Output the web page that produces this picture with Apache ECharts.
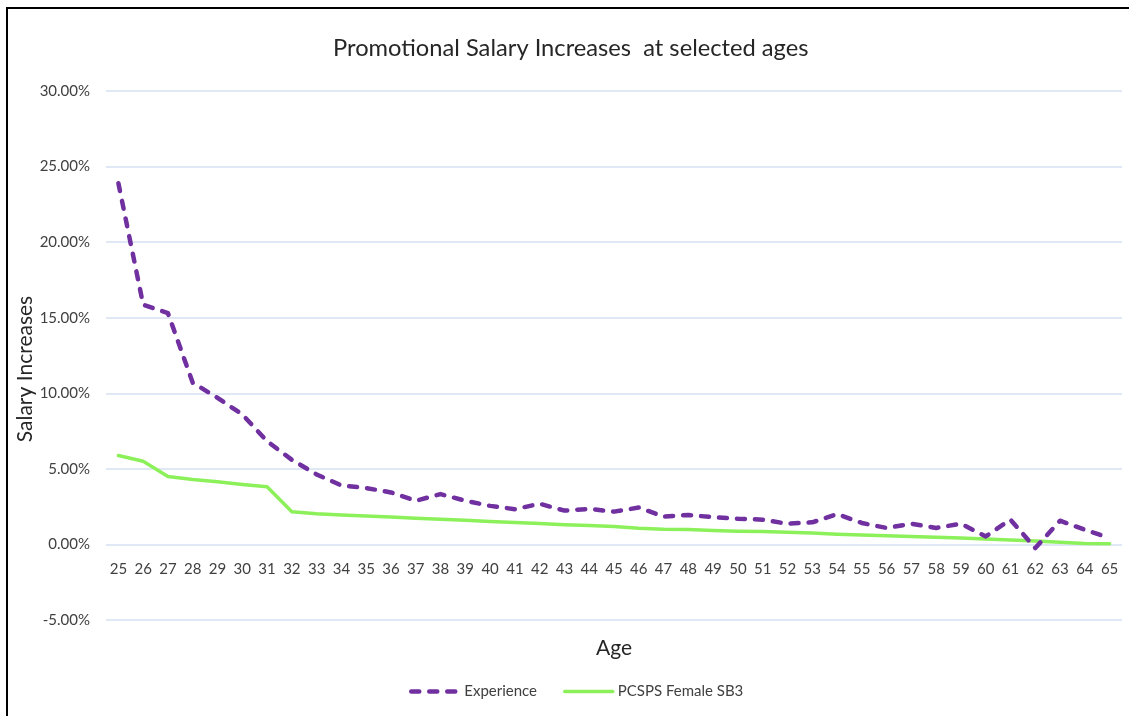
<!DOCTYPE html>
<html>
<head>
<meta charset="utf-8">
<script src="https://cdn.jsdelivr.net/npm/echarts@6/dist/echarts.min.js"></script>
<style>
  html, body { margin: 0; padding: 0; background: #fff; }
  #chart { width: 1129px; height: 716px; position: absolute; left: 0; top: 0; }
  #frame { position: absolute; left: 6px; top: 7px; width: 1200px; height: 800px;
           border-left: 2px solid #000; border-top: 2px solid #000; pointer-events: none; }
</style>
</head>
<body>
<div id="chart"></div>
<div id="frame"></div>
<script>
const ages = [25,26,27,28,29,30,31,32,33,34,35,36,37,38,39,40,41,42,43,44,45,46,47,48,49,50,51,52,53,54,55,56,57,58,59,60,61,62,63,64,65];
const experience = [23.9,15.86,15.3,10.7,9.7,8.6,6.83,5.6,4.63,3.9,
                    3.73,3.44,2.89,3.33,2.89,2.55,2.33,2.69,2.24,2.35,
                    2.17,2.44,1.84,1.95,1.8,1.7,1.64,1.37,1.46,2.01,
                    1.42,1.09,1.37,1.09,1.37,0.53,1.64,-0.24,1.57,0.97,0.42];
const pcsps = [5.88,5.5,4.5,4.3,4.14,3.97,3.81,2.16,2.03,1.95,
               1.88,1.81,1.74,1.67,1.6,1.52,1.45,1.38,1.31,1.25,
               1.18,1.07,1.0,0.98,0.92,0.88,0.85,0.8,0.75,0.68,
               0.63,0.58,0.53,0.47,0.42,0.36,0.3,0.23,0.15,0.06,0.05];
const seriesNames = ['Experience', 'PCSPS Female SB3'];
const titleText = 'Promotional Salary Increases  at selected ages';
const yAxisTitle = 'Salary Increases';
const xAxisTitle = 'Age';

const FONT = 'Lato, "Open Sans", sans-serif';
const PURPLE = '#7030A0', GREEN = '#8CF05A';
const gridTop = 91, gridBottom = 96, yMin = -5, yMax = 30;
const plotH = 716 - gridTop - gridBottom;
const zeroOffset = plotH * (0 - yMin) / (yMax - yMin);

const chart = echarts.init(document.getElementById('chart'), null, { renderer: 'canvas' });
chart.setOption({
  animation: false,
  backgroundColor: '#fff',
  title: {
    text: titleText, left: 328, top: 31,
    textStyle: { fontFamily: FONT, fontSize: 23.7, fontWeight: 'normal', color: '#262626' }
  },
  grid: { left: 106, right: 7, top: gridTop, bottom: gridBottom, containLabel: false, outerBoundsMode: 'none' },
  legend: {
    data: [
      { name: seriesNames[0], lineStyle: { width: 4.5, type: [8, 10], cap: 'round' } },
      { name: seriesNames[1], lineStyle: { width: 3.5 } }
    ],
    bottom: 12, left: 404, itemWidth: 48, itemHeight: 12, itemGap: 26,
    itemStyle: { opacity: 0 },
    textStyle: { fontFamily: FONT, fontSize: 15, color: '#404040' }
  },
  graphic: [{
    type: 'text', rotation: Math.PI / 2, x: 25, y: 369,
    style: { text: yAxisTitle, fontFamily: FONT, fontSize: 21, fill: '#262626',
             align: 'center', verticalAlign: 'middle' }
  }],
  xAxis: {
    type: 'category', data: ages, boundaryGap: true, position: 'bottom',
    offset: -zeroOffset,
    name: xAxisTitle, nameLocation: 'middle', nameGap: 93,
    nameTextStyle: { fontFamily: FONT, fontSize: 21, color: '#262626' },
    axisLine: { show: false, onZero: false },
    axisTick: { show: false },
    axisLabel: { interval: 0, margin: 17, fontFamily: FONT, fontSize: 15, color: '#404040' }
  },
  yAxis: {
    type: 'value', min: yMin, max: yMax, interval: 5,
    axisLine: { show: false }, axisTick: { show: false },
    splitLine: { lineStyle: { color: '#D6E0F3', width: 1.5 } },
    axisLabel: { margin: 16, fontFamily: FONT, fontSize: 15, color: '#404040',
                 formatter: v => v.toFixed(2) + '%' }
  },
  series: [
    { name: seriesNames[0], type: 'line', data: experience, symbol: 'none',
      lineStyle: { color: PURPLE, width: 4.5, type: [8, 10], cap: 'round', join: 'round' },
      itemStyle: { color: PURPLE }, z: 3 },
    { name: seriesNames[1], type: 'line', data: pcsps, symbol: 'none',
      lineStyle: { color: GREEN, width: 3.5, cap: 'round', join: 'round' },
      itemStyle: { color: GREEN }, z: 2 }
  ]
});
</script>
</body>
</html>
